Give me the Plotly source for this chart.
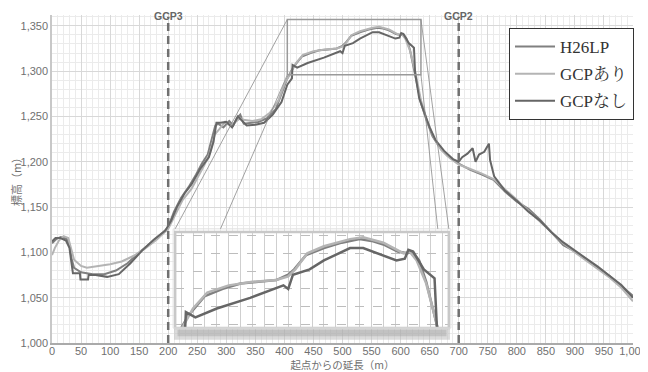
import plotly.graph_objects as go

# ---------------- data ----------------
h26_x = [0, 8, 15, 25, 30, 34, 38, 50, 70, 90, 110, 130, 150, 170, 190, 200, 210, 222, 235, 248,
         258, 268, 276, 281, 286, 295, 305, 312, 318, 324, 330, 340, 355, 370, 385, 395, 405, 416,
         430, 445, 460, 475, 490, 500, 505, 515, 530, 545, 560, 570, 580, 592, 600, 604, 610, 616,
         622, 628, 635, 645, 655, 665, 680, 700, 720, 740, 760, 780, 800, 820, 840, 860, 880, 900,
         920, 940, 960, 980, 1000]
h26_y = [1110, 1115, 1117, 1115, 1108, 1092, 1083, 1078, 1076, 1076, 1080, 1088, 1100, 1110, 1121,
         1128, 1145, 1160, 1172, 1186, 1198, 1208, 1228, 1240, 1242, 1238, 1245, 1240, 1248, 1252,
         1242, 1243, 1244, 1248, 1258, 1275, 1292, 1305, 1316, 1320, 1323, 1324, 1325, 1328, 1331,
         1339, 1343, 1346, 1348, 1347, 1345, 1341, 1340, 1341, 1336, 1324, 1305, 1285, 1265, 1245,
         1228, 1218, 1207, 1198, 1191, 1186, 1180, 1167, 1156, 1148, 1136, 1122, 1108, 1101, 1092,
         1083, 1074, 1063, 1052]

ari_x = [0, 5, 12, 20, 28, 33, 38, 50, 60, 80, 100, 120, 140, 160, 180, 200, 212, 225, 240, 250,
         262, 272, 280, 288, 298, 308, 316, 324, 332, 345, 360, 375, 390, 400, 410, 420, 432, 450,
         470, 490, 500, 506, 516, 530, 552, 563, 580, 597, 602, 608, 616, 625, 635, 645, 658, 670,
         685, 700, 720, 740, 760, 780, 800, 820, 840, 860, 880, 900, 920, 940, 960, 980, 1000]
ari_y = [1097, 1105, 1113, 1118, 1116, 1105, 1092, 1085, 1083, 1085, 1087, 1090, 1096, 1104, 1114,
         1126, 1142, 1158, 1170, 1182, 1196, 1210, 1230, 1236, 1244, 1240, 1244, 1248, 1246, 1245,
         1247, 1254, 1268, 1286, 1297, 1309, 1318, 1322, 1324, 1325, 1327, 1331, 1340, 1344, 1348,
         1349, 1346, 1340, 1341, 1336, 1323, 1300, 1268, 1246, 1226, 1213, 1204, 1197, 1192, 1187,
         1181, 1170, 1158, 1146, 1134, 1121, 1110, 1100, 1091, 1082, 1072, 1061, 1046]

nashi_x = [0, 6, 14, 24, 30, 34, 36, 48, 49, 62, 63, 75, 95, 115, 135, 155, 175, 195, 205, 215,
           228, 240, 255, 270, 278, 283, 290, 300, 310, 320, 335, 350, 365, 380, 395, 405, 413, 414,
           422, 440, 468, 496, 500, 504, 518, 530, 552, 563, 580, 591, 598, 601, 605, 614, 623, 625,
           632, 640, 650, 660, 675, 690, 700, 706, 715, 724, 729, 735, 744, 752, 754, 761, 780, 800,
           820, 840, 860, 880, 900, 920, 940, 960, 980, 1000]
nashi_y = [1112, 1116, 1116, 1113, 1105, 1086, 1077, 1077, 1070, 1070, 1075, 1075, 1073, 1076, 1088,
           1102, 1114, 1124, 1135, 1150, 1165, 1175, 1192, 1205, 1222, 1243, 1243, 1244, 1238, 1250,
           1240, 1241, 1243, 1252, 1266, 1285, 1292, 1307, 1304, 1309, 1315, 1322, 1320, 1328, 1331,
           1336, 1343, 1343, 1339, 1336, 1337, 1342, 1341, 1331, 1326, 1298, 1270, 1255, 1238, 1224,
           1212, 1203, 1200, 1205, 1209, 1215, 1200, 1208, 1211, 1220, 1202, 1184, 1168, 1157, 1145,
           1135, 1122, 1111, 1102, 1093, 1084, 1074, 1064, 1050]

series_names = ["H26LP", "GCPあり", "GCPなし"]

x_ticks = list(range(0, 1001, 50))
y_ticks = list(range(1000, 1351, 50))

gcp_x = [200, 700]
gcp_labels = ["GCP3", "GCP2"]

# zoom box (main data coords) and the inset window it is magnified into
zoom_box_x = [405, 635]
zoom_box_y = [1296, 1357]
inset_range_x = [405, 635]
inset_range_y = [1298, 1352]

# ---------------- styling / layout ----------------
MAIN_X = [0, 1000]
MAIN_Y = [1000, 1362]
INSET_POS_X = [212, 683]        # where the inset sits, in main-axis units
INSET_POS_Y = [1016.5, 1122.5]
CONNECT_LEFT_X = [212, 290]     # where the connector lines meet the inset top
CONNECT_RIGHT_X = [683, 664]

colors = ["#808080", "#b4b4b4", "#666666"]

TICK_FONT = "Liberation Sans Narrow, Arial Narrow, Liberation Sans, sans-serif"
CJK_FONT = "Noto Sans CJK JP, sans-serif"
LEG_FONT = "Liberation Serif, Noto Serif CJK JP, Noto Sans CJK JP, serif"


def frac(v, rng):
    return (v - rng[0]) / (rng[1] - rng[0])


fig = go.Figure()
data_sets = [(h26_x, h26_y), (ari_x, ari_y), (nashi_x, nashi_y)]
for i, (xs, ys) in enumerate(data_sets):
    fig.add_trace(go.Scatter(x=xs, y=ys, mode="lines", name=series_names[i],
                             legendgroup=f"g{i}",
                             line=dict(color=colors[i], width=2),
                             xaxis="x", yaxis="y"))
for i, (xs, ys) in enumerate(data_sets):
    fig.add_trace(go.Scatter(x=xs, y=ys, mode="lines", name=series_names[i],
                             showlegend=False,
                             line=dict(color=colors[i], width=2.5),
                             xaxis="x2", yaxis="y2"))

shapes = []
# white background of the inset (drawn inside the inset subplot, below its grid)
shapes.append(dict(type="rect", xref="x2", yref="y2", layer="below",
                   x0=inset_range_x[0] - 50, x1=inset_range_x[1] + 50,
                   y0=inset_range_y[0] - 20, y1=inset_range_y[1] + 20,
                   fillcolor="white", line=dict(width=0)))
# soft shadow under inset
shapes.append(dict(type="rect", xref="x", yref="y", layer="above",
                   x0=INSET_POS_X[0] - 2, x1=INSET_POS_X[1] + 2,
                   y0=INSET_POS_Y[0] - 13, y1=INSET_POS_Y[0],
                   fillcolor="rgba(190,190,190,0.55)", line=dict(width=0)))
shapes.append(dict(type="rect", xref="x", yref="y", layer="above",
                   x0=INSET_POS_X[0] + 4, x1=INSET_POS_X[1] - 4,
                   y0=INSET_POS_Y[0] - 9, y1=INSET_POS_Y[0] - 2,
                   fillcolor="rgba(165,165,165,0.45)", line=dict(width=0)))
# inset frame
shapes.append(dict(type="rect", xref="x", yref="y", layer="above",
                   x0=INSET_POS_X[0], x1=INSET_POS_X[1],
                   y0=INSET_POS_Y[0], y1=INSET_POS_Y[1],
                   line=dict(color="#c8c8c8", width=2.5)))
shapes.append(dict(type="rect", xref="x", yref="y", layer="above",
                   x0=INSET_POS_X[0] - 3.5, x1=INSET_POS_X[1] + 3.5,
                   y0=INSET_POS_Y[0], y1=INSET_POS_Y[1] + 3.5,
                   line=dict(color="#e0e0e0", width=1)))
# zoom box
shapes.append(dict(type="rect", xref="x", yref="y", layer="above",
                   x0=zoom_box_x[0], x1=zoom_box_x[1], y0=zoom_box_y[0], y1=zoom_box_y[1],
                   line=dict(color="#9a9a9a", width=1.5)))
# connector lines
for (bx, by, tx) in [(zoom_box_x[0], zoom_box_y[1], CONNECT_LEFT_X[0]),
                     (zoom_box_x[0], zoom_box_y[0], CONNECT_LEFT_X[1]),
                     (zoom_box_x[1], zoom_box_y[1], CONNECT_RIGHT_X[0]),
                     (zoom_box_x[1], zoom_box_y[0], CONNECT_RIGHT_X[1])]:
    shapes.append(dict(type="line", xref="x", yref="y", layer="above",
                       x0=bx, y0=by, x1=tx, y1=INSET_POS_Y[1] + 3.5,
                       line=dict(color="#8a8a8a", width=0.8)))
# GCP dashed lines
for gx in gcp_x:
    shapes.append(dict(type="line", xref="x", yref="y", layer="above",
                       x0=gx, x1=gx, y0=MAIN_Y[0], y1=1360,
                       line=dict(color="#707070", width=2.5, dash="8px,5px")))

annotations = []
for gx, gl in zip(gcp_x, gcp_labels):
    annotations.append(dict(x=gx, xref="x", y=1, yref="paper", text=f"<b>{gl}</b>",
                            showarrow=False, yanchor="top", yshift=7,
                            font=dict(family=TICK_FONT, size=10.5, color="#666666")))

# the page adds an 8px body margin, so the figure is 8px smaller and margins compensate
fig.update_layout(
    width=640, height=364,
    margin=dict(l=44, r=15, t=7, b=29),
    paper_bgcolor="white", plot_bgcolor="white",
    showlegend=True,
    legend=dict(x=frac(509, [52, 633]), y=0.9604,
                xanchor="left", yanchor="top",
                bgcolor="white", bordercolor="#333333", borderwidth=1,
                tracegroupgap=2, itemwidth=40,
                font=dict(family=LEG_FONT, size=17, color="#333333")),
    xaxis=dict(domain=[0, 1], range=MAIN_X, tickvals=x_ticks,
               ticktext=[f"{v:,}" for v in x_ticks],
               showgrid=True, gridcolor="#d8d8d8", gridwidth=1,
               minor=dict(dtick=10, showgrid=True, gridcolor="#ebebeb", gridwidth=1),
               showline=True, linecolor="#aaaaaa", linewidth=2, zeroline=False,
               ticks="", ticklabelstandoff=-3,
               tickfont=dict(family=TICK_FONT, size=11, color="#707070"),
               title=dict(text="起点からの延長（m）", standoff=12,
                          font=dict(family=CJK_FONT, size=10.5, color="#707070")),
               automargin=False),
    yaxis=dict(domain=[0, 1], range=MAIN_Y, tickvals=y_ticks,
               ticktext=[f"{v:,}" for v in y_ticks],
               showgrid=True, gridcolor="#d8d8d8", gridwidth=1,
               minor=dict(dtick=10, showgrid=True, gridcolor="#ebebeb", gridwidth=1),
               showline=True, linecolor="#c8c8c8", linewidth=1.5, zeroline=False,
               ticks="", tickfont=dict(family=TICK_FONT, size=11, color="#707070"),
               title=dict(text="標高（m）", standoff=0,
                          font=dict(family=CJK_FONT, size=11, color="#707070")),
               automargin=False),
    xaxis2=dict(domain=[frac(INSET_POS_X[0], MAIN_X), frac(INSET_POS_X[1], MAIN_X)],
                anchor="y2", range=inset_range_x, dtick=10, tick0=0,
                showticklabels=False, ticks="", showline=False, zeroline=False,
                showgrid=True, gridcolor="#cfcfcf", gridwidth=1),
    yaxis2=dict(domain=[frac(INSET_POS_Y[0], MAIN_Y), frac(INSET_POS_Y[1], MAIN_Y)],
                anchor="x2", range=inset_range_y, dtick=10, tick0=0,
                showticklabels=False, ticks="", showline=False, zeroline=False,
                showgrid=True, gridcolor="#bdbdbd", gridwidth=1, griddash="dash"),
    shapes=shapes,
    annotations=annotations,
)

fig.write_html("out.html")
